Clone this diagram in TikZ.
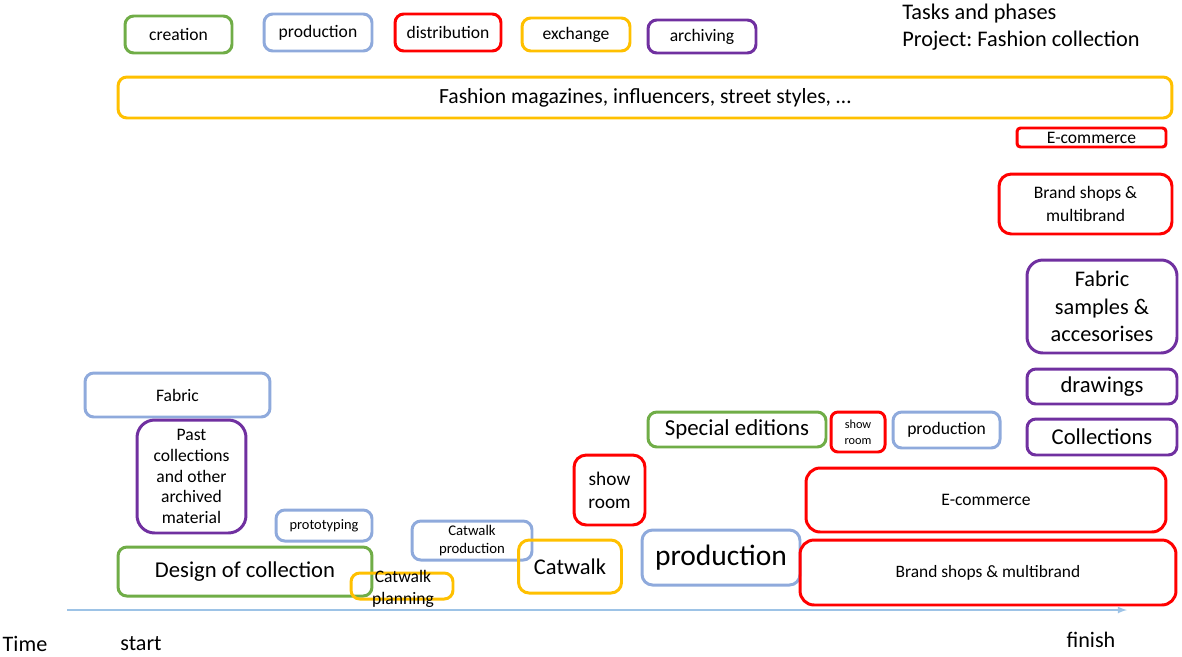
\documentclass[tikz,border=0pt]{standalone}
\usepackage{fontspec}
\setmainfont{Carlito}
\frenchspacing
\definecolor{creagreen}{HTML}{70AD47}
\definecolor{prodblue}{HTML}{8FAADC}
\definecolor{distred}{HTML}{FF0000}
\definecolor{exchgold}{HTML}{FFC000}
\definecolor{archpurple}{HTML}{7030A0}
\definecolor{axisblue}{HTML}{9DC3E6}
\newcommand{\fsz}[2]{\fontsize{#1}{#2}\selectfont}
\tikzset{
  task/.style={draw, rounded corners=5pt, line width=1.7pt, inner sep=0pt, align=center},
  crea/.style={task, draw=creagreen},
  prod/.style={task, draw=prodblue},
  dist/.style={task, draw=distred},
  exch/.style={task, draw=exchgold},
  arch/.style={task, draw=archpurple},
  plain/.style={inner sep=0pt, font=\fsz{12.6}{15}}
}

\begin{document}
\begin{tikzpicture}[x=0.02cm, y=-0.02cm]
\useasboundingbox (0,0) rectangle (1182,656);
% legend of the phases
\node[crea, minimum width=2.14cm, minimum height=0.74cm, font=\fsz{10}{12}] (lgcrea) at (178.5,34.5) {creation};
\node[prod, minimum width=2.16cm, minimum height=0.74cm, font=\fsz{10}{12}] (lgprod) at (318,32.5) {production};
\node[dist, minimum width=2.12cm, minimum height=0.74cm, font=\fsz{10}{12}] (lgdist) at (448,32.5) {distribution};
\node[exch, minimum width=2.16cm, minimum height=0.66cm, font=\fsz{10}{12}] (lgexch) at (576,34.5) {exchange};
\node[arch, minimum width=2.16cm, minimum height=0.66cm, font=\fsz{10}{12}] (lgarch) at (702,36.5) {archiving};
\node[plain, anchor=west, align=left, font=\fsz{12.7}{15.4}] (title) at (902,27) {Tasks and phases\\Project: Fashion collection};
% long running
\node[exch, minimum width=21.08cm, minimum height=0.82cm, font=\fsz{12.3}{14}] (magazines) at (645,97.5) {Fashion magazines, influencers, street styles, \dots};
\node[dist, rounded corners=2pt, minimum width=2.98cm, minimum height=0.38cm, font=\fsz{10}{12}] (ecomtop) at (1091.5,137.5) {E-commerce};
\node[dist, rounded corners=7pt, minimum width=3.46cm, minimum height=1.2cm, font=\fsz{10}{13}] (shopstop) at (1085.5,204) {Brand shops \&\\multibrand};
% archive at the end
\node[arch, rounded corners=9pt, minimum width=3.0cm, minimum height=1.86cm, font=\fsz{12.7}{15.6}] (samples) at (1102,306.5) {Fabric\\samples \&\\accesorises};
\node[arch, minimum width=3.0cm, minimum height=0.7cm, font=\fsz{12.9}{15}] (drawings) at (1102,386.5) {drawings};
\node[arch, minimum width=3.0cm, minimum height=0.72cm, font=\fsz{12.9}{15}] (collections) at (1102,437) {Collections};
% special editions
\node[crea, minimum width=3.56cm, minimum height=0.7cm, font=\fsz{13}{15}] (special) at (737,429.5) {Special editions};
\node[dist, rounded corners=4pt, minimum width=1.08cm, minimum height=0.8cm, font=\fsz{7}{9}] (showtiny) at (858,432) {show\\room};
\node[prod, minimum width=2.14cm, minimum height=0.72cm, font=\fsz{10}{12}] (prodsmall) at (946.5,430) {production};
% season
\node[prod, minimum width=3.7cm, minimum height=0.88cm, font=\fsz{10}{12}] (fabric) at (177.5,395) {Fabric};
\node[arch, rounded corners=10pt, minimum width=2.18cm, minimum height=2.26cm, font=\fsz{10}{11.9}] (past) at (191.5,476.5) {Past\\collections\\and other\\archived\\material};
\node[crea, minimum width=5.08cm, minimum height=0.98cm, font=\fsz{12.9}{15}] (design) at (245,571.5) {Design of collection};
\node[prod, minimum width=1.92cm, minimum height=0.62cm, font=\fsz{8.2}{10}] (proto) at (324,525.5) {prototyping};
\node[exch, minimum width=2.04cm, minimum height=0.52cm] (cwplan) at (402,586) {};
\node[inner sep=0pt, align=center, font=\fsz{10}{12.3}] (cwplantext) at (403,589) {Catwalk\\planning};
\node[prod, minimum width=2.4cm, minimum height=0.78cm, font=\fsz{8.4}{10.2}] (cwprod) at (472,540.5) {Catwalk\\production};
\node[exch, rounded corners=6pt, minimum width=2.06cm, minimum height=1.06cm, font=\fsz{12.8}{15}] (catwalk) at (570,566.5) {Catwalk};
\node[dist, rounded corners=7pt, minimum width=1.42cm, minimum height=1.4cm, font=\fsz{11}{13.1}] (showroom) at (609.5,490) {show\\room};
\node[prod, rounded corners=6pt, minimum width=3.16cm, minimum height=1.1cm, font=\fsz{16.8}{19}] (prodbig) at (721,557.5) {production};
\node[dist, rounded corners=8pt, minimum width=7.2cm, minimum height=1.28cm, font=\fsz{10}{12}] (ecombig) at (986,500) {E-commerce};
\node[dist, rounded corners=8pt, minimum width=7.52cm, minimum height=1.3cm, font=\fsz{9.9}{12}] (shopsbig) at (988,572.5) {Brand shops \& multibrand};
% time axis
\coordinate (tstart) at (67,610);
\coordinate (tend) at (1127,610);
\draw[axisblue, line width=0.8pt, -latex] (tstart) -- (tend);
\node[plain] (time) at (25,644) {Time};
\node[plain] (start) at (141,644) {start};
\node[plain] (finish) at (1091,640) {finish};
\end{tikzpicture}
\end{document}
